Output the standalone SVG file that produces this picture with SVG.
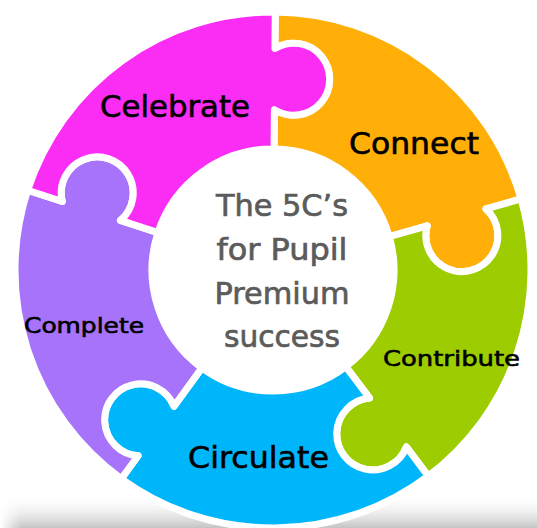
<svg xmlns="http://www.w3.org/2000/svg" width="537" height="528" viewBox="0 0 537 528">
<defs>
<linearGradient id="shade" x1="0" y1="0" x2="0" y2="1">
<stop offset="0" stop-color="#ffffff" stop-opacity="0"/>
<stop offset="1" stop-color="#c4c4c4"/>
</linearGradient>
<linearGradient id="shadeX" x1="0" y1="0" x2="1" y2="0">
<stop offset="0" stop-color="#ffffff"/>
<stop offset="0.04" stop-color="#ffffff" stop-opacity="0"/>
<stop offset="1" stop-color="#ffffff" stop-opacity="0"/>
</linearGradient>
</defs>
<style>
.piece{stroke:#ffffff;stroke-width:7;stroke-linejoin:round}
.lbl{font-family:"DejaVu Sans","Liberation Sans",sans-serif;fill:#000000;stroke:#000000;stroke-width:0.6}
.ctr{font-family:"DejaVu Sans","Liberation Sans",sans-serif;fill:#5b5b5b;stroke:#5b5b5b;stroke-width:0.7;font-size:31px;text-anchor:middle}
</style>
<rect width="537" height="528" fill="#ffffff"/>
<rect x="0" y="494" width="537" height="34" fill="url(#shade)"/>
<rect x="0" y="494" width="537" height="34" fill="url(#shadeX)"/>
<g id="connectors"></g>
<g id="orange">
<path class="piece" fill="#FFAF07" d="M 275.25 12.01 A 258 258 0 0 1 521.01 198.89 L 485.99 208.92 A 36 36 0 1 1 427.21 225.78 L 389.31 236.65 A 121 121 0 0 0 274.06 149.00 L 274.40 109.59 A 36 36 0 1 0 274.93 48.43 Z"/>
<text class="lbl" x="349" y="154" font-size="30" textLength="130" lengthAdjust="spacingAndGlyphs">Connect</text>
</g>
<g id="green">
<path class="piece" fill="#9DCC00" d="M 521.01 198.89 A 258 258 0 0 1 428.27 476.05 L 406.35 446.96 A 36 36 0 1 1 369.54 398.11 L 345.82 366.64 A 121 121 0 0 0 389.31 236.65 L 427.21 225.78 A 36 36 0 1 0 485.99 208.92 Z"/>
<text class="lbl" x="383" y="366" font-size="22" textLength="137" lengthAdjust="spacingAndGlyphs">Contribute</text>
</g>
<g id="blue">
<path class="piece" fill="#00B6FA" d="M 428.27 476.05 A 258 258 0 0 1 121.35 478.73 L 138.06 455.74 A 36 36 0 1 1 174.01 406.25 L 201.88 367.89 A 121 121 0 0 0 345.82 366.64 L 369.54 398.11 A 36 36 0 1 0 406.35 446.96 Z"/>
<text class="lbl" x="188" y="468" font-size="31" textLength="141" lengthAdjust="spacingAndGlyphs">Circulate</text>
</g>
<g id="purple">
<path class="piece" fill="#A673FA" d="M 121.35 478.73 A 258 258 0 0 1 27.63 190.27 L 62.27 201.53 A 36 36 0 1 1 120.43 220.43 L 157.92 232.61 A 121 121 0 0 0 201.88 367.89 L 174.01 406.25 A 36 36 0 1 0 138.06 455.74 Z"/>
<text class="lbl" x="24" y="333" font-size="21" textLength="120" lengthAdjust="spacingAndGlyphs">Complete</text>
</g>
<g id="pink">
<path class="piece" fill="#FB2CF4" d="M 27.63 190.27 A 258 258 0 0 1 275.25 12.01 L 274.93 48.43 A 36 36 0 1 1 274.40 109.59 L 274.06 149.00 A 121 121 0 0 0 157.92 232.61 L 120.43 220.43 A 36 36 0 1 0 62.27 201.53 Z"/>
<text class="lbl" x="100" y="117" font-size="30" textLength="150" lengthAdjust="spacingAndGlyphs">Celebrate</text>
</g>
<g id="center">
<circle cx="273" cy="270" r="116" fill="#ffffff"/>
<text class="ctr" x="282" y="216" textLength="132" lengthAdjust="spacingAndGlyphs">The 5C’s</text>
<text class="ctr" x="282" y="260" textLength="131" lengthAdjust="spacingAndGlyphs">for Pupil</text>
<text class="ctr" x="282" y="304" textLength="135" lengthAdjust="spacingAndGlyphs">Premium</text>
<text class="ctr" x="282" y="347" textLength="116" lengthAdjust="spacingAndGlyphs">success</text>
</g>
</svg>
